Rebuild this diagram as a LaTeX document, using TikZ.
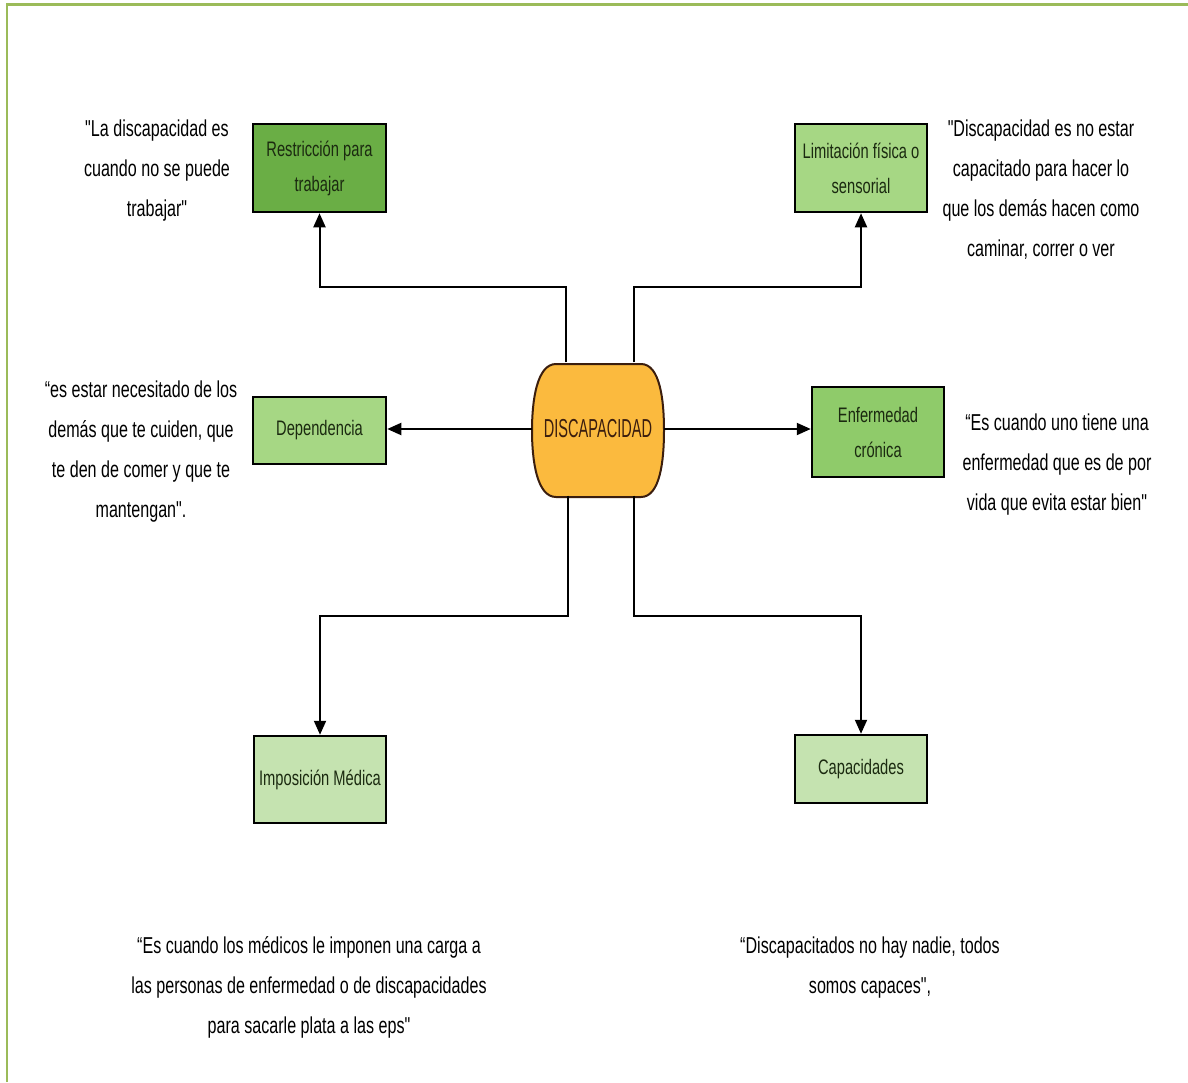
\documentclass[tikz,border=0pt]{standalone}
\usepackage{fontspec}
\setmainfont{Liberation Sans}[FakeStretch=0.7]
\newfontfamily\discfont{Liberation Sans}[FakeStretch=0.56]
\newfontfamily\rawfont{Liberation Sans}[FakeStretch=0.7, Ligatures=TeXOff]
\usetikzlibrary{arrows.meta,calc}

% plain (straight) double quote, set without the TeX ligature mapping
\newcommand{\sq}{{\rawfont"}}

\definecolor{frame}{HTML}{9BBB59}
\definecolor{gdark}{HTML}{6AAE45}
\definecolor{gmid}{HTML}{8FCB6A}
\definecolor{glight}{HTML}{A6D784}
\definecolor{gpale}{HTML}{C5E3B0}
\definecolor{core}{HTML}{FBBA3E}
\definecolor{boxtext}{HTML}{1B2A10}
\definecolor{coretext}{HTML}{3B1E0E}

\tikzset{
  box/.style={draw=black, line width=2.5pt, inner sep=0pt, align=center,
    text=boxtext, font=\fontsize{21}{35}\selectfont},
  quote/.style={align=center, text=black, font=\fontsize{23}{40}\selectfont},
  conn/.style={line width=2pt, draw=black},
  arr/.style={conn, -{Triangle[length=14pt,width=12pt]}},
}

\begin{document}
\begin{tikzpicture}[x=1pt,y=-1pt]
\useasboundingbox (0,0) rectangle (1188,1082);
\fill[white] (0,0) rectangle (1188,1082);

% page frame (left and top edges)
\draw[frame, line width=2.5pt] (7,1082) -- (7,4.5) -- (1188,4.5);

% central concept
\draw[fill=core, draw=coretext, line width=2pt]
  (556,364) -- (641,364)
  .. controls (660,364) and (664,400) .. (664,430.5)
  .. controls (664,461) and (660,497) .. (641,497)
  -- (556,497)
  .. controls (537,497) and (532,461) .. (532,430.5)
  .. controls (532,400) and (537,364) .. (556,364) -- cycle;
\node[minimum width=132pt, minimum height=133pt, inner sep=0pt,
      text=coretext, font=\discfont\fontsize{26}{30}\selectfont]
  (disc) at (598,429) {DISCAPACIDAD};

% categories
\node[box, fill=gdark, minimum width=133pt, minimum height=88pt]
  (restr) at (319.5,168) {Restricción para\\trabajar};
\node[box, fill=glight, minimum width=132pt, minimum height=88pt]
  (limit) at (861,168) {Limitación física o\\sensorial};
\node[box, fill=glight, minimum width=133pt, minimum height=67pt]
  (dep) at (319.5,430.5) {Dependencia};
\node[box, fill=gmid, minimum width=132pt, minimum height=90pt]
  (enf) at (878,432) {Enfermedad\\crónica};
\node[box, fill=gpale, minimum width=132pt, minimum height=87pt]
  (impo) at (320,779.5) {Imposición Médica};
\node[box, fill=gpale, minimum width=132pt, minimum height=68pt]
  (capa) at (861,769) {Capacidades};

% connectors
\draw[arr] ([xshift=-32pt]disc.north) -- ++(0,-75) -| (restr.south);
\draw[arr] ([xshift=36pt]disc.north) -- ++(0,-75) -| (limit.south);
\draw[arr] (disc.west) -- (disc.west -| dep.east);
\draw[arr] (disc.east) -- (disc.east -| enf.west);
\draw[arr] ([xshift=-30pt]disc.south) -- ++(0,120) -| (impo.north);
\draw[arr] ([xshift=36pt]disc.south) -- ++(0,120) -| (capa.north);

% quotations
\node[quote] (q1) at (157,171)
  {\sq La discapacidad es\\cuando no se puede\\trabajar\sq};
\node[quote] (q2) at (1041,190)
  {\sq Discapacidad es no estar\\capacitado para hacer lo\\que los demás hacen como\\caminar, correr o ver};
\node[quote] (q3) at (141,452)
  {“es estar necesitado de los\\demás que te cuiden, que\\te den de comer y que te\\mantengan\sq.};
\node[quote] (q4) at (1057,465)
  {“Es cuando uno tiene una\\enfermedad que es de por\\vida que evita estar bien\sq};
\node[quote] (q5) at (309,987)
  {“Es cuando los médicos le imponen una carga a\\las personas de enfermedad o de discapacidades\\para sacarle plata a las eps\sq};
\node[quote] (q6) at (870,968)
  {“Discapacitados no hay nadie, todos\\somos capaces\sq,};
\end{tikzpicture}
\end{document}
